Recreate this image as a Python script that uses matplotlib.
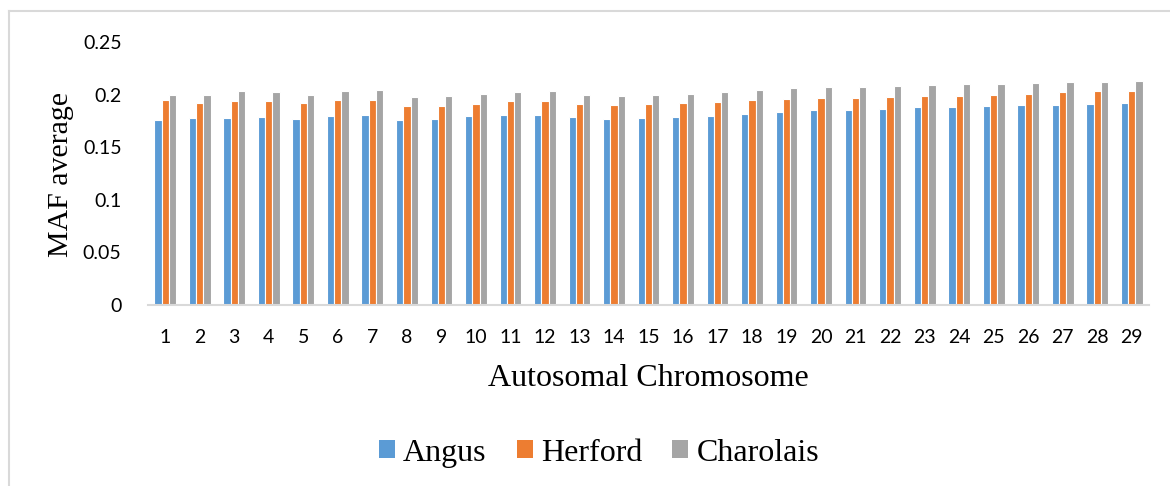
import numpy as np
import matplotlib
matplotlib.use("Agg")
import matplotlib.pyplot as plt
from matplotlib.lines import Line2D
from matplotlib.patches import Patch

chromosomes = [str(i) for i in range(1, 30)]
angus = [0.176, 0.178, 0.178, 0.179, 0.177, 0.180, 0.181, 0.176, 0.177, 0.180,
         0.181, 0.181, 0.179, 0.177, 0.178, 0.179, 0.180, 0.182, 0.183, 0.185,
         0.185, 0.186, 0.188, 0.188, 0.189, 0.190, 0.190, 0.191, 0.192]
herford = [0.195, 0.192, 0.194, 0.194, 0.192, 0.195, 0.195, 0.189, 0.189, 0.191,
           0.194, 0.194, 0.191, 0.190, 0.191, 0.192, 0.193, 0.195, 0.196, 0.197,
           0.197, 0.198, 0.199, 0.199, 0.200, 0.201, 0.202, 0.203, 0.203]
charolais = [0.200, 0.200, 0.203, 0.202, 0.200, 0.203, 0.204, 0.198, 0.199, 0.201,
             0.202, 0.203, 0.200, 0.199, 0.200, 0.201, 0.202, 0.204, 0.206, 0.207,
             0.207, 0.208, 0.209, 0.210, 0.210, 0.211, 0.212, 0.212, 0.213]
series_names = ["Angus", "Herford", "Charolais"]
colors = ["#5B9BD5", "#ED7D31", "#A5A5A5"]
y_ticks = [0, 0.05, 0.1, 0.15, 0.2, 0.25]
y_tick_labels = ["0", "0.05", "0.1", "0.15", "0.2", "0.25"]

W, H = 1170, 486
fig = plt.figure(figsize=(W / 100, H / 100), dpi=100)
ax = fig.add_axes([148 / W, 1 - 305 / H, (1149 - 148) / W, (305 - 42) / H])

x = np.arange(1, len(chromosomes) + 1)
bw = 0.21
for k, (vals, c) in enumerate(zip([angus, herford, charolais], colors)):
    ax.bar(x + (k - 1) * bw, vals, width=bw, color=c, edgecolor="white",
           linewidth=0.8, zorder=2)

ax.set_xlim(0.5, len(chromosomes) + 0.5)
ax.set_ylim(0, 0.25)
ax.set_yticks(y_ticks)
ax.set_yticklabels(y_tick_labels)
ax.set_xticks(x)
ax.set_xticklabels(chromosomes)
ax.tick_params(axis="both", length=0, labelsize=14, labelcolor="black")
ax.tick_params(axis="y", pad=19)
ax.tick_params(axis="x", pad=17)
for lab in ax.get_xticklabels() + ax.get_yticklabels():
    lab.set_family("Lato")

for s in ["top", "right", "left"]:
    ax.spines[s].set_visible(False)
ax.spines["bottom"].set_color("#D9D9D9")
ax.spines["bottom"].set_linewidth(1.5)

serif = "Liberation Serif"
fig.text(61 / W, 1 - 174 / H, "MAF average", rotation=90, ha="center",
         va="center", fontsize=21.5, family=serif)
fig.text(648 / W, 1 - 379 / H, "Autosomal Chromosome", ha="center",
         va="center", fontsize=23, family=serif)

handles = [Patch(facecolor=c, edgecolor="none") for c in colors]
fig.legend(handles, series_names, loc="center", bbox_to_anchor=(599 / W, 1 - 453 / H),
           ncol=3, frameon=False, prop={"family": serif, "size": 23},
           handlelength=0.5, handleheight=0.5, handletextpad=0.25,
           columnspacing=0.95, borderpad=0, borderaxespad=0)

# chart-area frame (left and top edges)
fig.add_artist(Line2D([9 / W, 9 / W], [0, 1 - 11 / H], transform=fig.transFigure,
                      color="#D9D9D9", linewidth=1.5))
fig.add_artist(Line2D([9 / W, 1], [1 - 11 / H, 1 - 11 / H], transform=fig.transFigure,
                      color="#D9D9D9", linewidth=1.5))

fig.savefig("out.png", dpi=100, facecolor="white")
